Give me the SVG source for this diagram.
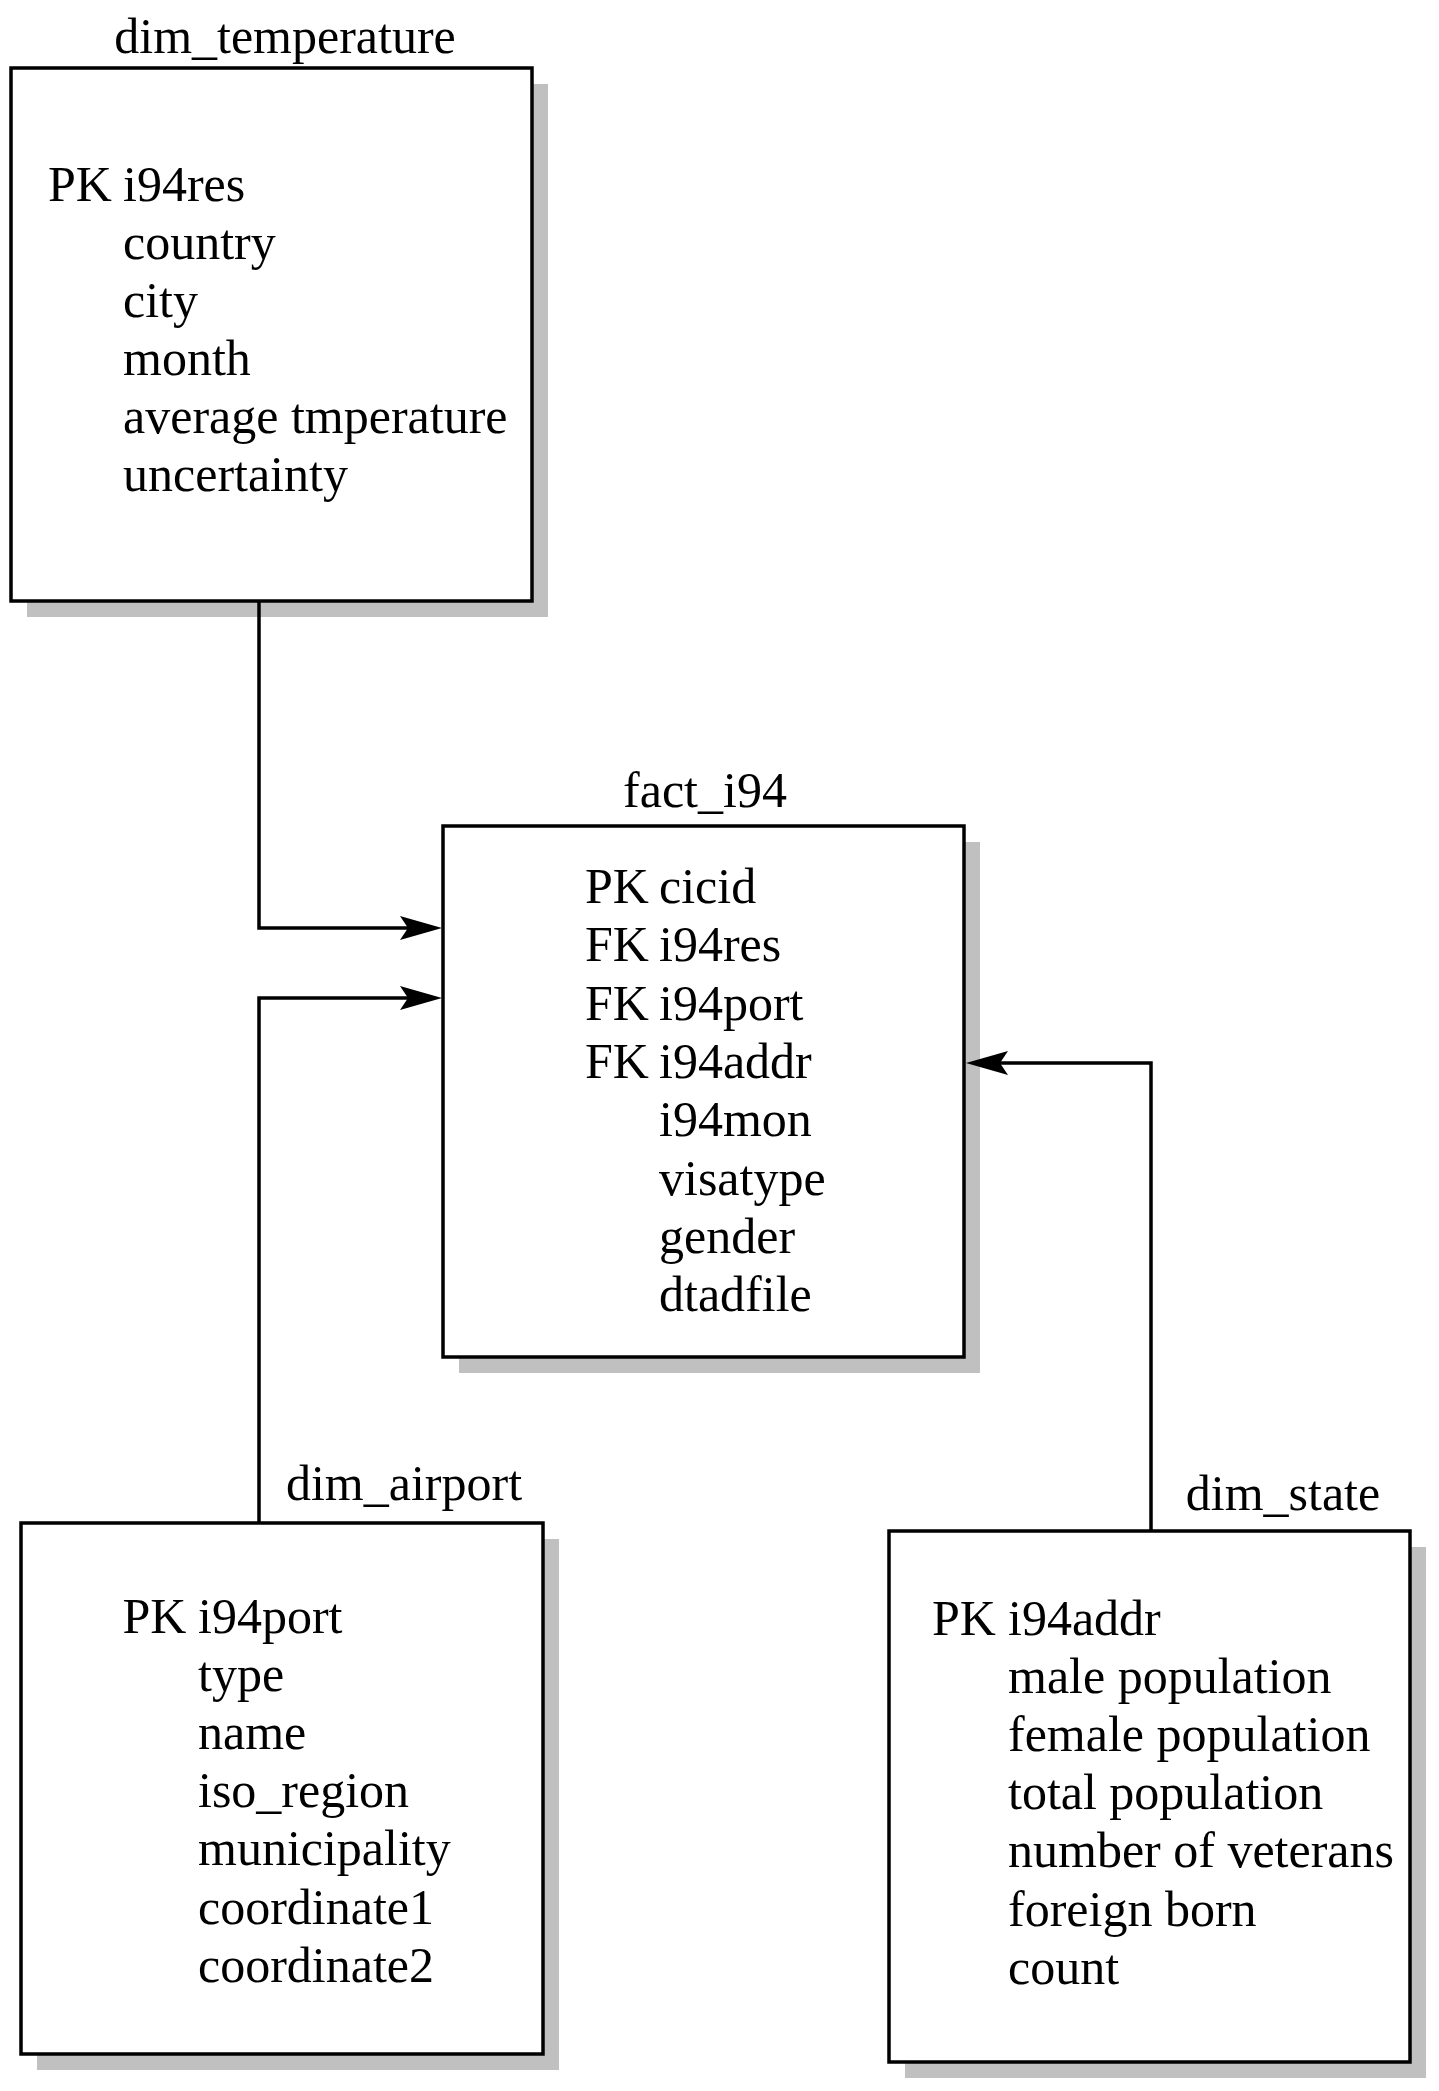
<svg xmlns="http://www.w3.org/2000/svg" width="1439" height="2091" viewBox="0 0 1439 2091">
<style>
.shadow{fill:#c0c0c0;stroke:none}
.box{fill:#ffffff;stroke:#000000;stroke-width:3.5}
.t{font-family:"Liberation Serif","Times New Roman",serif;font-size:50px;fill:#000000}
.title{text-anchor:middle}
.conn{fill:none;stroke:#000000;stroke-width:3.5}
</style>
<defs>
<marker id="arrow" markerUnits="userSpaceOnUse" markerWidth="42" markerHeight="24" viewBox="0 0 42 24" refX="8" refY="12" orient="auto">
<path d="M0,0 L42,12 L0,24 L8,12 Z" fill="#000000"/>
</marker>
</defs>
<rect width="1439" height="2091" fill="#ffffff"/>

<g id="dim_temperature">
<rect class="shadow" x="27" y="84" width="521" height="533"/>
<rect class="box" x="11" y="68" width="521" height="533"/>
<text class="t title" x="285" y="53">dim_temperature</text>
<text class="t" x="48" y="200.5">PK</text>
<text class="t" x="123" y="200.5">i94res</text>
<text class="t" x="123" y="258.5">country</text>
<text class="t" x="123" y="316.5">city</text>
<text class="t" x="123" y="374.5">month</text>
<text class="t" x="123" y="432.5">average tmperature</text>
<text class="t" x="123" y="490.5">uncertainty</text>
</g>

<g id="fact_i94">
<rect class="shadow" x="459" y="842" width="521" height="531"/>
<rect class="box" x="443" y="826" width="521" height="531"/>
<text class="t title" x="705" y="807">fact_i94</text>
<text class="t" x="585" y="903">PK</text>
<text class="t" x="659" y="903">cicid</text>
<text class="t" x="585" y="961.3">FK</text>
<text class="t" x="659" y="961.3">i94res</text>
<text class="t" x="585" y="1019.6">FK</text>
<text class="t" x="659" y="1019.6">i94port</text>
<text class="t" x="585" y="1077.9">FK</text>
<text class="t" x="659" y="1077.9">i94addr</text>
<text class="t" x="659" y="1136.2">i94mon</text>
<text class="t" x="659" y="1194.5">visatype</text>
<text class="t" x="659" y="1252.8">gender</text>
<text class="t" x="659" y="1311.1">dtadfile</text>
</g>

<g id="dim_airport">
<rect class="shadow" x="37" y="1539" width="522" height="531"/>
<rect class="box" x="21" y="1523" width="522" height="531"/>
<text class="t title" x="404" y="1500">dim_airport</text>
<text class="t" x="122.5" y="1633">PK</text>
<text class="t" x="198" y="1633">i94port</text>
<text class="t" x="198" y="1691.1">type</text>
<text class="t" x="198" y="1749.2">name</text>
<text class="t" x="198" y="1807.3">iso_region</text>
<text class="t" x="198" y="1865.4">municipality</text>
<text class="t" x="198" y="1923.5">coordinate1</text>
<text class="t" x="198" y="1981.6">coordinate2</text>
</g>

<g id="dim_state">
<rect class="shadow" x="905" y="1547" width="521" height="531"/>
<rect class="box" x="889" y="1531" width="521" height="531"/>
<text class="t title" x="1283" y="1510">dim_state</text>
<text class="t" x="932" y="1635">PK</text>
<text class="t" x="1008" y="1635">i94addr</text>
<text class="t" x="1008" y="1693.1">male population</text>
<text class="t" x="1008" y="1751.2">female population</text>
<text class="t" x="1008" y="1809.3">total population</text>
<text class="t" x="1008" y="1867.4">number of veterans</text>
<text class="t" x="1008" y="1925.5">foreign born</text>
<text class="t" x="1008" y="1983.6">count</text>
</g>

<g id="connectors">
<path class="conn" d="M259,601 V928 H408" marker-end="url(#arrow)"/>
<path class="conn" d="M259,1523 V998 H408" marker-end="url(#arrow)"/>
<path class="conn" d="M1151,1531 V1063 H1000" marker-end="url(#arrow)"/>
</g>
</svg>
